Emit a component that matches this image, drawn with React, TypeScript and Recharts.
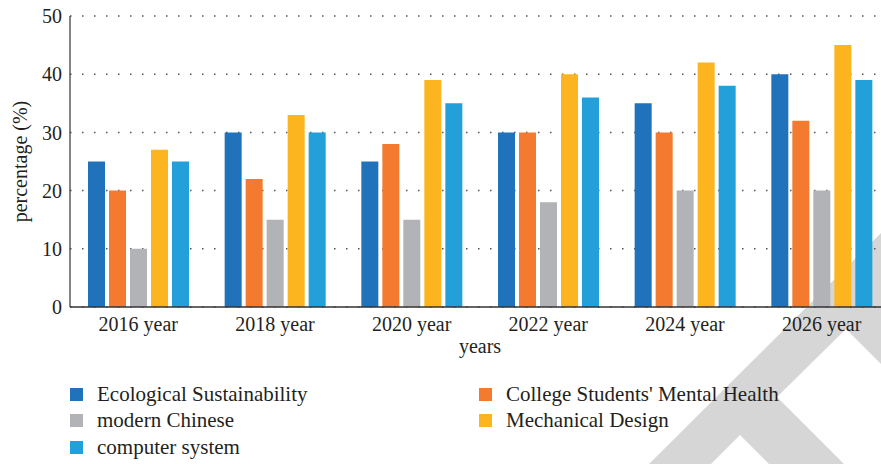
import React from 'react';
import { BarChart, Bar, XAxis, YAxis, CartesianGrid } from 'recharts';

const categories = ['2016 year', '2018 year', '2020 year', '2022 year', '2024 year', '2026 year'];
const ecological = [25, 30, 25, 30, 35, 40];
const mental = [20, 22, 28, 30, 30, 32];
const chinese = [10, 15, 15, 18, 20, 20];
const mechanical = [27, 33, 39, 40, 42, 45];
const computer = [25, 30, 35, 36, 38, 39];
const yTicks = [0, 10, 20, 30, 40, 50];

const series = [
  { key: 'ecological', name: 'Ecological Sustainability', color: '#2072bb', values: ecological },
  { key: 'mental', name: "College Students' Mental Health", color: '#f47a30', values: mental },
  { key: 'chinese', name: 'modern Chinese', color: '#b2b3b6', values: chinese },
  { key: 'mechanical', name: 'Mechanical Design', color: '#fcb51e', values: mechanical },
  { key: 'computer', name: 'computer system', color: '#239fda', values: computer },
];

const data = categories.map((c, i) => {
  const row: Record<string, string | number> = { year: c };
  series.forEach((s) => {
    row[s.key] = s.values[i];
  });
  return row;
});

const FONT = '"Liberation Serif", "DejaVu Serif", serif';
const TEXT = '#231f20';

export default function App() {
  return (
    <div style={{ position: 'absolute', left: 0, top: 0, width: 881, height: 464, overflow: 'hidden', fontFamily: FONT, background: '#fff' }}>
      <svg width={881} height={464} style={{ position: 'absolute', left: 0, top: 0 }}>
        <polygon
          points="881,233 881,364 846,329 777,397 844,464 769,464 740,435 711,464 649,464"
          fill="#d6d6d6"
        />
      </svg>
      <div style={{ position: 'absolute', left: 0, top: 0 }}>
        <BarChart
          width={900}
          height={464}
          data={data}
          margin={{ top: 16, right: 10, bottom: 107, left: 20 }}
          barSize={17}
          barGap={4}
        >
          <CartesianGrid vertical={false} stroke="#555" strokeDasharray="1.5 10.5" strokeWidth={1.5} />
          <XAxis
            dataKey="year"
            tickLine={false}
            axisLine={{ stroke: '#333', strokeWidth: 1.5 }}
            tick={{ fontSize: 20, fill: TEXT, fontFamily: FONT }}
            tickMargin={4}
            height={50}
            interval={0}
            label={{ value: 'years', position: 'insideBottom', offset: 4, fontSize: 20, fill: TEXT, fontFamily: FONT }}
          />
          <YAxis
            domain={[0, 50]}
            ticks={yTicks}
            tickLine={false}
            axisLine={{ stroke: '#333', strokeWidth: 1.2 }}
            tick={{ fontSize: 20, fill: TEXT, fontFamily: FONT }}
            width={50}
            label={{ value: 'percentage (%)', angle: -90, position: 'insideLeft', offset: 0, fontSize: 20, fill: TEXT, fontFamily: FONT, style: { textAnchor: 'middle' } }}
          />
          {series.map((s) => (
            <Bar key={s.key} dataKey={s.key} name={s.name} fill={s.color} isAnimationActive={false} />
          ))}
        </BarChart>
      </div>
      <div style={{ position: 'absolute', left: 70, top: 381, width: 800, display: 'grid', gridTemplateColumns: '409px 400px', rowGap: 0 }}>
        {series.map((s) => (
          <div key={s.key} style={{ display: 'flex', alignItems: 'center', height: 26.5 }}>
            <span style={{ width: 13, height: 13, background: s.color, display: 'inline-block', marginRight: 14 }} />
            <span style={{ fontSize: 21, color: TEXT, fontFamily: FONT, whiteSpace: 'nowrap' }}>{s.name}</span>
          </div>
        ))}
      </div>
    </div>
  );
}
